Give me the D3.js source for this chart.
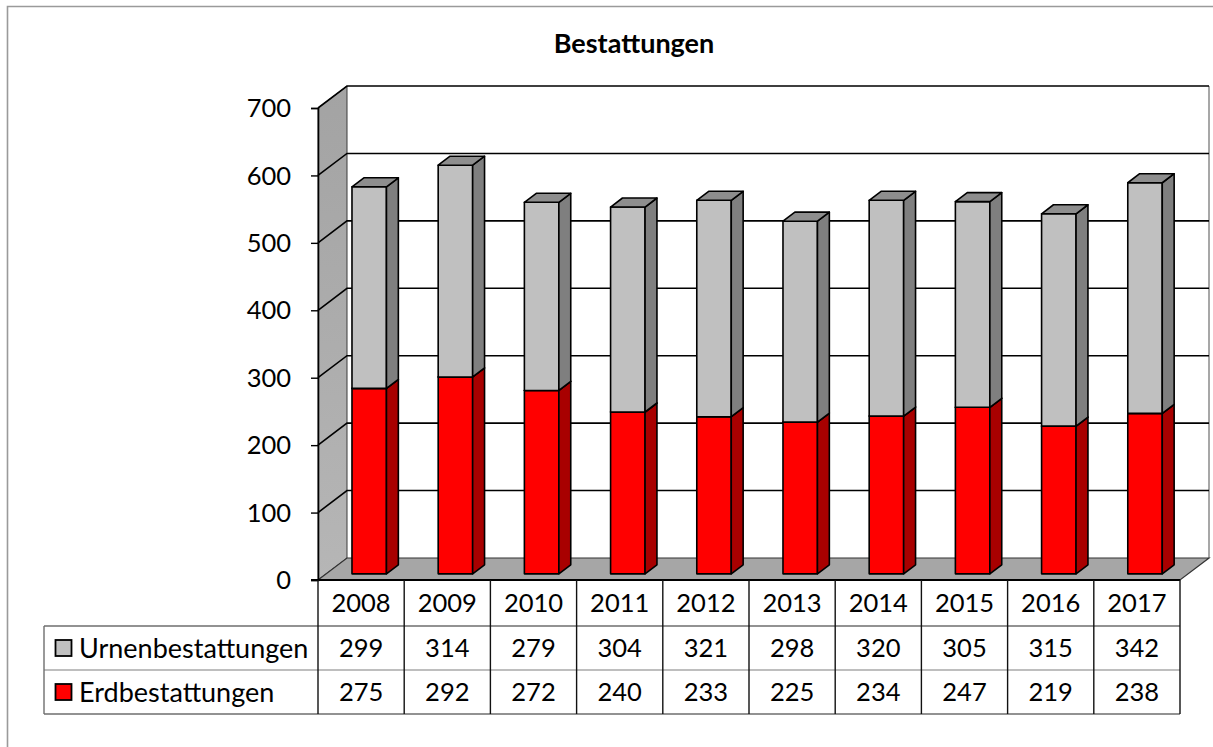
<!DOCTYPE html>
<html>
<head>
<meta charset="utf-8">
<script src="https://cdn.jsdelivr.net/npm/d3@7"></script>
<style>
  html, body { margin: 0; padding: 0; background: #fff; }
  svg { display: block; font-family: Lato, "Open Sans", sans-serif; }
</style>
</head>
<body>
<svg id="chart" width="1213" height="747"></svg>
<script>
// Burial statistics per year
const years = ["2008", "2009", "2010", "2011", "2012", "2013", "2014", "2015", "2016", "2017"];
const urnBurials = [299, 314, 279, 304, 321, 298, 320, 305, 315, 342];
const earthBurials = [275, 292, 272, 240, 233, 225, 234, 247, 219, 238];
const yTicks = [0, 100, 200, 300, 400, 500, 600, 700];
const seriesNames = ["Urnenbestattungen", "Erdbestattungen"];
const titleText = "Bestattungen";

const svg = d3.select("#chart");

// front plane of the 3D plot box
const X0 = 318, X1 = 1180;
const DX = 29, DY = 22;          // projected offset of full depth
const D0 = 0.28, D1 = 0.69;      // depth range occupied by the columns

const x = d3.scaleBand().domain(years).range([X0, X1]).paddingInner(0).paddingOuter(0);
const y = d3.scaleLinear().domain([0, 700]).range([580, 108]);

const proj = (px, v, d) => [px + d * DX, y(v) - d * DY];
const poly = pts => "M" + pts.map(p => p.join(",")).join("L") + "Z";

// outer frame
svg.append("path").attr("d", "M7.5,747 L7.5,6.5 L1213,6.5")
  .attr("fill", "none").attr("stroke", "#9a9a9a").attr("stroke-width", 1.6);

// title
svg.append("text").attr("x", 634).attr("y", 53).attr("text-anchor", "middle")
  .attr("font-weight", "bold").attr("font-size", 27).text(titleText);

// back wall
svg.append("path")
  .attr("d", poly([proj(X0, 0, 1), proj(X1, 0, 1), proj(X1, 700, 1), proj(X0, 700, 1)]))
  .attr("fill", "#fff").attr("stroke", "none");
svg.append("line")
  .attr("x1", proj(X1, 0, 1)[0]).attr("y1", proj(X1, 0, 1)[1])
  .attr("x2", proj(X1, 700, 1)[0]).attr("y2", proj(X1, 700, 1)[1])
  .attr("stroke", "#8a8a8a").attr("stroke-width", 1.5);

// side wall with a soft vertical gradient
const defs = svg.append("defs");
const grad = defs.append("linearGradient").attr("id", "sideWall")
  .attr("x1", 0).attr("y1", 0).attr("x2", 0).attr("y2", 1);
grad.append("stop").attr("offset", "0%").attr("stop-color", "#a3a3a3");
grad.append("stop").attr("offset", "100%").attr("stop-color", "#b6b6b6");

svg.append("path")
  .attr("d", poly([proj(X0, 0, 0), proj(X0, 0, 1), proj(X0, 700, 1), proj(X0, 700, 0)]))
  .attr("fill", "url(#sideWall)").attr("stroke", "#3a3a3a").attr("stroke-width", 1);

// gridlines on back and side walls
yTicks.filter(t => t > 0).forEach(t => {
  const a = proj(X0, t, 0), b = proj(X0, t, 1), c = proj(X1, t, 1);
  svg.append("path").attr("d", `M${a}L${b}L${c}`)
    .attr("fill", "none").attr("stroke", "#000").attr("stroke-width", 1.6);
});

// floor
svg.append("path")
  .attr("d", poly([proj(X0, 0, 0), proj(X1, 0, 0), proj(X1, 0, 1), proj(X0, 0, 1)]))
  .attr("fill", "#a6a6a6").attr("stroke", "#333").attr("stroke-width", 1.2);
svg.append("line").attr("x1", X0 - 7).attr("x2", X1).attr("y1", y(0)).attr("y2", y(0))
  .attr("stroke", "#000").attr("stroke-width", 2);

// value axis
const yAxis = d3.axisLeft(y).tickValues(yTicks).tickSize(7).tickPadding(20);
const ya = svg.append("g").attr("transform", `translate(${X0},0)`).call(yAxis);
ya.select(".domain").attr("stroke", "#000").attr("stroke-width", 1.6);
ya.selectAll(".tick line").attr("stroke", "#000").attr("stroke-width", 1.4);
ya.selectAll(".tick text").attr("font-family", "Lato, sans-serif").attr("font-size", 25.5)
  .attr("fill", "#000").attr("dy", "0.34em");

// stacked 3D columns
const barW = x.bandwidth() * 0.4;
const colors = {
  earth: { front: "#ff0000", side: "#a80000", top: "#c00000" },
  urn: { front: "#c0c0c0", side: "#7f7f7f", top: "#8e8e8e" }
};

function drawSegment(g, a, b, v0, v1, c) {
  const attrs = s => s.attr("stroke", "#000").attr("stroke-width", 1.6).attr("stroke-linejoin", "round");
  g.append("path").attr("d", poly([proj(a, v0, D0), proj(b, v0, D0), proj(b, v1, D0), proj(a, v1, D0)]))
    .attr("fill", c.front).call(attrs);
  g.append("path").attr("d", poly([proj(b, v0, D0), proj(b, v0, D1), proj(b, v1, D1), proj(b, v1, D0)]))
    .attr("fill", c.side).call(attrs);
  g.append("path").attr("d", poly([proj(a, v1, D0), proj(b, v1, D0), proj(b, v1, D1), proj(a, v1, D1)]))
    .attr("fill", c.top).call(attrs);
}

const bars = svg.append("g");
years.forEach((yr, i) => {
  const cx = x(yr) + x.bandwidth() / 2;
  const a = cx - barW / 2, b = cx + barW / 2;
  const g = bars.append("g");
  drawSegment(g, a, b, 0, earthBurials[i], colors.earth);
  drawSegment(g, a, b, earthBurials[i], earthBurials[i] + urnBurials[i], colors.urn);
});

// data table under the plot
const rowTop = [580, 626, 670, 714];
const labelLeft = 44;
const table = svg.append("g").attr("font-size", 25.5).attr("fill", "#000");

// horizontal rules
[626, 670, 714].forEach((ry, i) => {
  table.append("line").attr("x1", labelLeft).attr("x2", X1).attr("y1", ry).attr("y2", ry)
    .attr("stroke", i === 1 ? "#a8a8a8" : "#6e6e6e").attr("stroke-width", 1.4);
});
table.append("line").attr("x1", labelLeft).attr("x2", labelLeft).attr("y1", 626).attr("y2", 714)
  .attr("stroke", "#6e6e6e").attr("stroke-width", 1.4);
// vertical rules at column boundaries
years.forEach(yr => {
  table.append("line").attr("x1", x(yr)).attr("x2", x(yr)).attr("y1", 580).attr("y2", 714)
    .attr("stroke", "#111").attr("stroke-width", 1.4);
});
table.append("line").attr("x1", X1).attr("x2", X1).attr("y1", 580).attr("y2", 714)
  .attr("stroke", "#111").attr("stroke-width", 1.4);

// year header
years.forEach(yr => {
  table.append("text").attr("x", x(yr) + x.bandwidth() / 2).attr("y", 603)
    .attr("dy", "0.36em").attr("text-anchor", "middle").text(yr);
});

// series rows
const rows = [
  { name: seriesNames[0], values: urnBurials, color: "#c0c0c0" },
  { name: seriesNames[1], values: earthBurials, color: "#ff0000" }
];
rows.forEach((r, i) => {
  const cy = (rowTop[i + 1] + rowTop[i + 2]) / 2;
  table.append("rect").attr("x", 55.5).attr("y", cy - 8).attr("width", 16).attr("height", 16)
    .attr("fill", r.color).attr("stroke", "#000").attr("stroke-width", 1.8);
  table.append("text").attr("x", 79).attr("y", cy).attr("dy", "0.36em")
    .attr("font-size", 27).text(r.name);
  r.values.forEach((v, j) => {
    table.append("text").attr("x", x(years[j]) + x.bandwidth() / 2).attr("y", cy)
      .attr("dy", "0.36em").attr("text-anchor", "middle").text(v);
  });
});
</script>
</body>
</html>
